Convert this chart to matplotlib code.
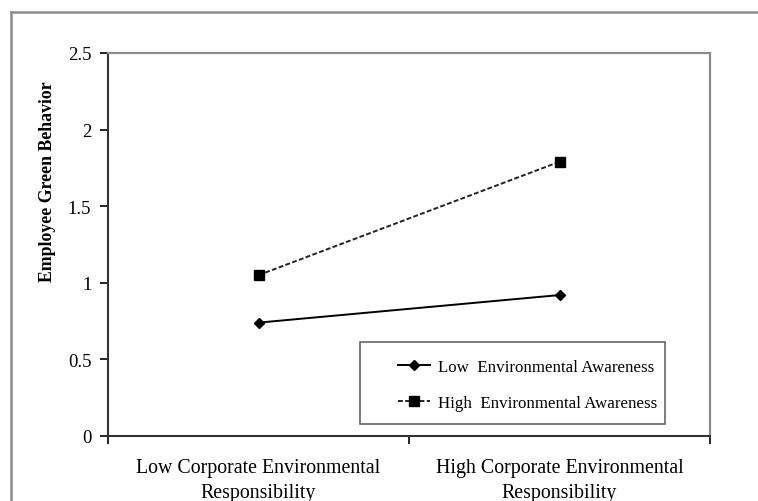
import matplotlib.pyplot as plt
from matplotlib.lines import Line2D
from matplotlib.patches import Rectangle

plt.rcParams['font.family'] = ['Liberation Serif', 'DejaVu Serif']

# data
categories = ['Low Corporate Environmental\nResponsibility',
              'High Corporate Environmental\nResponsibility']
low_awareness = [0.74, 0.92]
high_awareness = [1.05, 1.79]
series_names = ['Low  Environmental Awareness', 'High  Environmental Awareness']
yticks = [0, 0.5, 1, 1.5, 2, 2.5]
ytick_labels = ['0', '0.5', '1', '1.5', '2', '2.5']

W, H = 758, 502
fig = plt.figure(figsize=(W / 100, H / 100), dpi=100)

# outer frame of the original figure (cropped)
fig.add_artist(Line2D([11 / W, 1], [1 - 13 / H, 1 - 13 / H], color='#8c8c8c', lw=1.8))
fig.add_artist(Line2D([11 / W, 11 / W], [0, 1 - 13 / H], color='#8c8c8c', lw=1.8))

ax = fig.add_axes([108 / W, 65 / H, 602 / W, 383 / H])

xpos = [0.5, 1.5]
ax.plot(xpos, low_awareness, color='black', lw=1.4, marker='D', ms=5.5,
        label=series_names[0])
ax.plot(xpos, high_awareness, color='#222222', lw=1.4, ls=(0, (2.5, 1.2)),
        marker='s', ms=7, mfc='black', mec='black', label=series_names[1])

ax.set_xlim(0, 2)
ax.set_ylim(0, 2.5)
ax.set_yticks(yticks)
ax.set_yticklabels(ytick_labels, fontsize=13.5)
ax.set_xticks([0, 1, 2])
ax.set_xticklabels([])
ax.set_xticks(xpos, minor=True)
ax.set_xticklabels(categories, minor=True, fontsize=14.3, linespacing=1.4)
ax.tick_params(axis='x', which='minor', length=0, pad=16)
ax.tick_params(axis='x', which='major', length=6, width=1.2, direction='out')
ax.tick_params(axis='y', length=6, width=1.2, direction='out', pad=6)

for s in ['left', 'bottom']:
    ax.spines[s].set_color('#333333')
    ax.spines[s].set_linewidth(1.5)
for s in ['top', 'right']:
    ax.spines[s].set_color('#8c8c8c')
    ax.spines[s].set_linewidth(1.6)

ax.set_ylabel('Employee Green Behavior', fontsize=12.8, fontweight='bold')
ax.yaxis.set_label_coords(-52 / 602, (437 - 182) / 383)

# legend box
ax.add_patch(Rectangle((252 / 602, 12 / 383), 305 / 602, 82 / 383,
                       transform=ax.transAxes, fill=False, ec='#666666', lw=1.2))
ax.legend(loc='center left', bbox_to_anchor=(290 / 602, 51 / 383), frameon=False,
          fontsize=12.2, handlelength=1.9, handletextpad=0.45, labelspacing=1.15,
          borderpad=0, borderaxespad=0)

fig.savefig('out.png', dpi=100)
